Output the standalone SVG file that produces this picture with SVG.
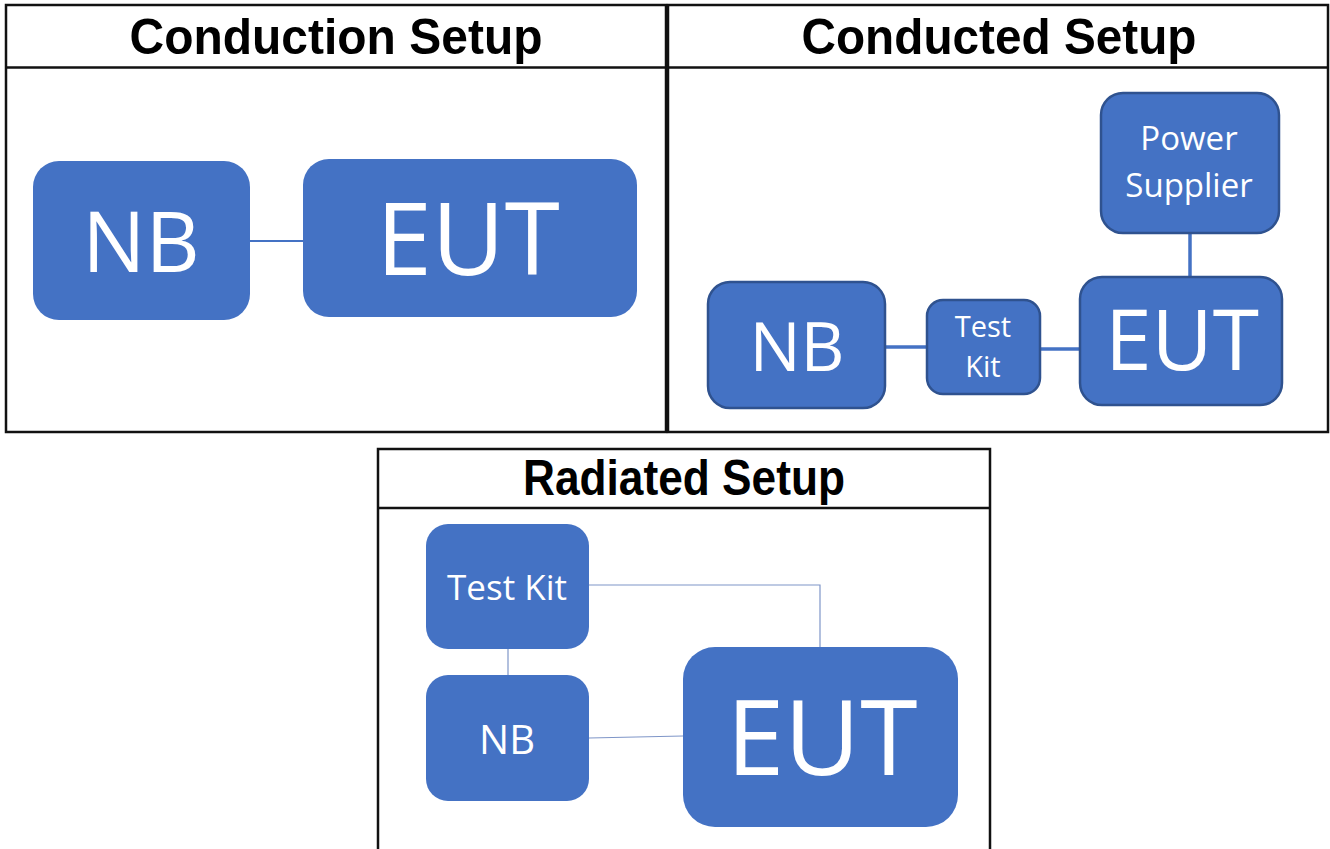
<svg xmlns="http://www.w3.org/2000/svg" width="1330" height="849" viewBox="0 0 1330 849">
<style>
.panel{fill:#fff;stroke:#111;stroke-width:2.5}
.sep{stroke:#111;stroke-width:2.5}
.title{font-family:"Liberation Sans",Arial,sans-serif;font-weight:bold;font-size:50px;fill:#000;text-anchor:middle}
.box{fill:#4472c4}
.box2{fill:#4472c4;stroke:#2f528f;stroke-width:2.5}
.lbl{font-family:"Open Sans","Noto Sans",sans-serif;fill:#fff;text-anchor:middle}
.c1{stroke:#4472c4;stroke-width:2;fill:none}
.c2{stroke:#4472c4;stroke-width:3.5;fill:none}
.c3{stroke:#7f96c8;stroke-width:1.2;fill:none}
</style>
<rect width="1330" height="849" fill="#fff"/>
<g id="panel-conduction">
<rect class="panel" x="6" y="5" width="660" height="427"/>
<line class="sep" x1="6" y1="67.5" x2="666" y2="67.5"/>
<text class="title" x="336" y="54" textLength="413" lengthAdjust="spacingAndGlyphs">Conduction Setup</text>
</g>
<g id="panel-conducted">
<rect class="panel" x="668" y="5" width="660" height="427"/>
<line class="sep" x1="668" y1="67.5" x2="1328" y2="67.5"/>
<text class="title" x="999" y="54" textLength="395" lengthAdjust="spacingAndGlyphs">Conducted Setup</text>
</g>
<g id="panel-radiated">
<path class="panel" d="M378,851 V449 H990 V851"/>
<line class="sep" x1="378" y1="508" x2="990" y2="508"/>
<text class="title" x="684" y="495" textLength="322" lengthAdjust="spacingAndGlyphs">Radiated Setup</text>
</g>
<g id="connectors">
<line class="c1" x1="250" y1="241" x2="303" y2="241"/>
<line class="c2" x1="885" y1="347" x2="927" y2="347"/>
<line class="c2" x1="1040" y1="349" x2="1080" y2="349"/>
<line class="c2" x1="1190" y1="233" x2="1190" y2="277"/>
<line class="c3" x1="508" y1="649" x2="508" y2="675"/>
<polyline class="c3" points="589,585 820,585 820,647"/>
<line class="c3" x1="589" y1="738" x2="683" y2="736"/>
</g>
<g id="a-nb">
<rect class="box" x="33" y="161" width="217" height="159" rx="26"/>
<text class="lbl" x="141" y="272" font-size="84">NB</text>
</g>
<g id="a-eut">
<rect class="box" x="303" y="159" width="334" height="158" rx="26"/>
<text class="lbl" x="468" y="275" font-size="100">EUT</text>
</g>
<g id="b-ps">
<rect class="box2" x="1101" y="93" width="178" height="140" rx="22"/>
<text class="lbl" x="1189" y="150" font-size="33">Power</text>
<text class="lbl" x="1189" y="197" font-size="33">Supplier</text>
</g>
<g id="b-eut">
<rect class="box2" x="1080" y="277" width="202" height="128" rx="22"/>
<text class="lbl" x="1182" y="370" font-size="84">EUT</text>
</g>
<g id="b-nb">
<rect class="box2" x="708" y="282" width="177" height="126" rx="22"/>
<text class="lbl" x="797" y="371" font-size="68">NB</text>
</g>
<g id="b-testkit">
<rect class="box2" x="927" y="300" width="113" height="94" rx="16"/>
<text class="lbl" x="983" y="337" font-size="29">Test</text>
<text class="lbl" x="983" y="377" font-size="29">Kit</text>
</g>
<g id="c-testkit">
<rect class="box" x="426" y="524" width="163" height="125" rx="22"/>
<text class="lbl" x="507" y="600" font-size="35">Test Kit</text>
</g>
<g id="c-nb">
<rect class="box" x="426" y="675" width="163" height="126" rx="22"/>
<text class="lbl" x="507" y="754" font-size="40">NB</text>
</g>
<g id="c-eut">
<rect class="box" x="683" y="647" width="275" height="180" rx="32"/>
<text class="lbl" x="822" y="775" font-size="104">EUT</text>
</g>
</svg>
